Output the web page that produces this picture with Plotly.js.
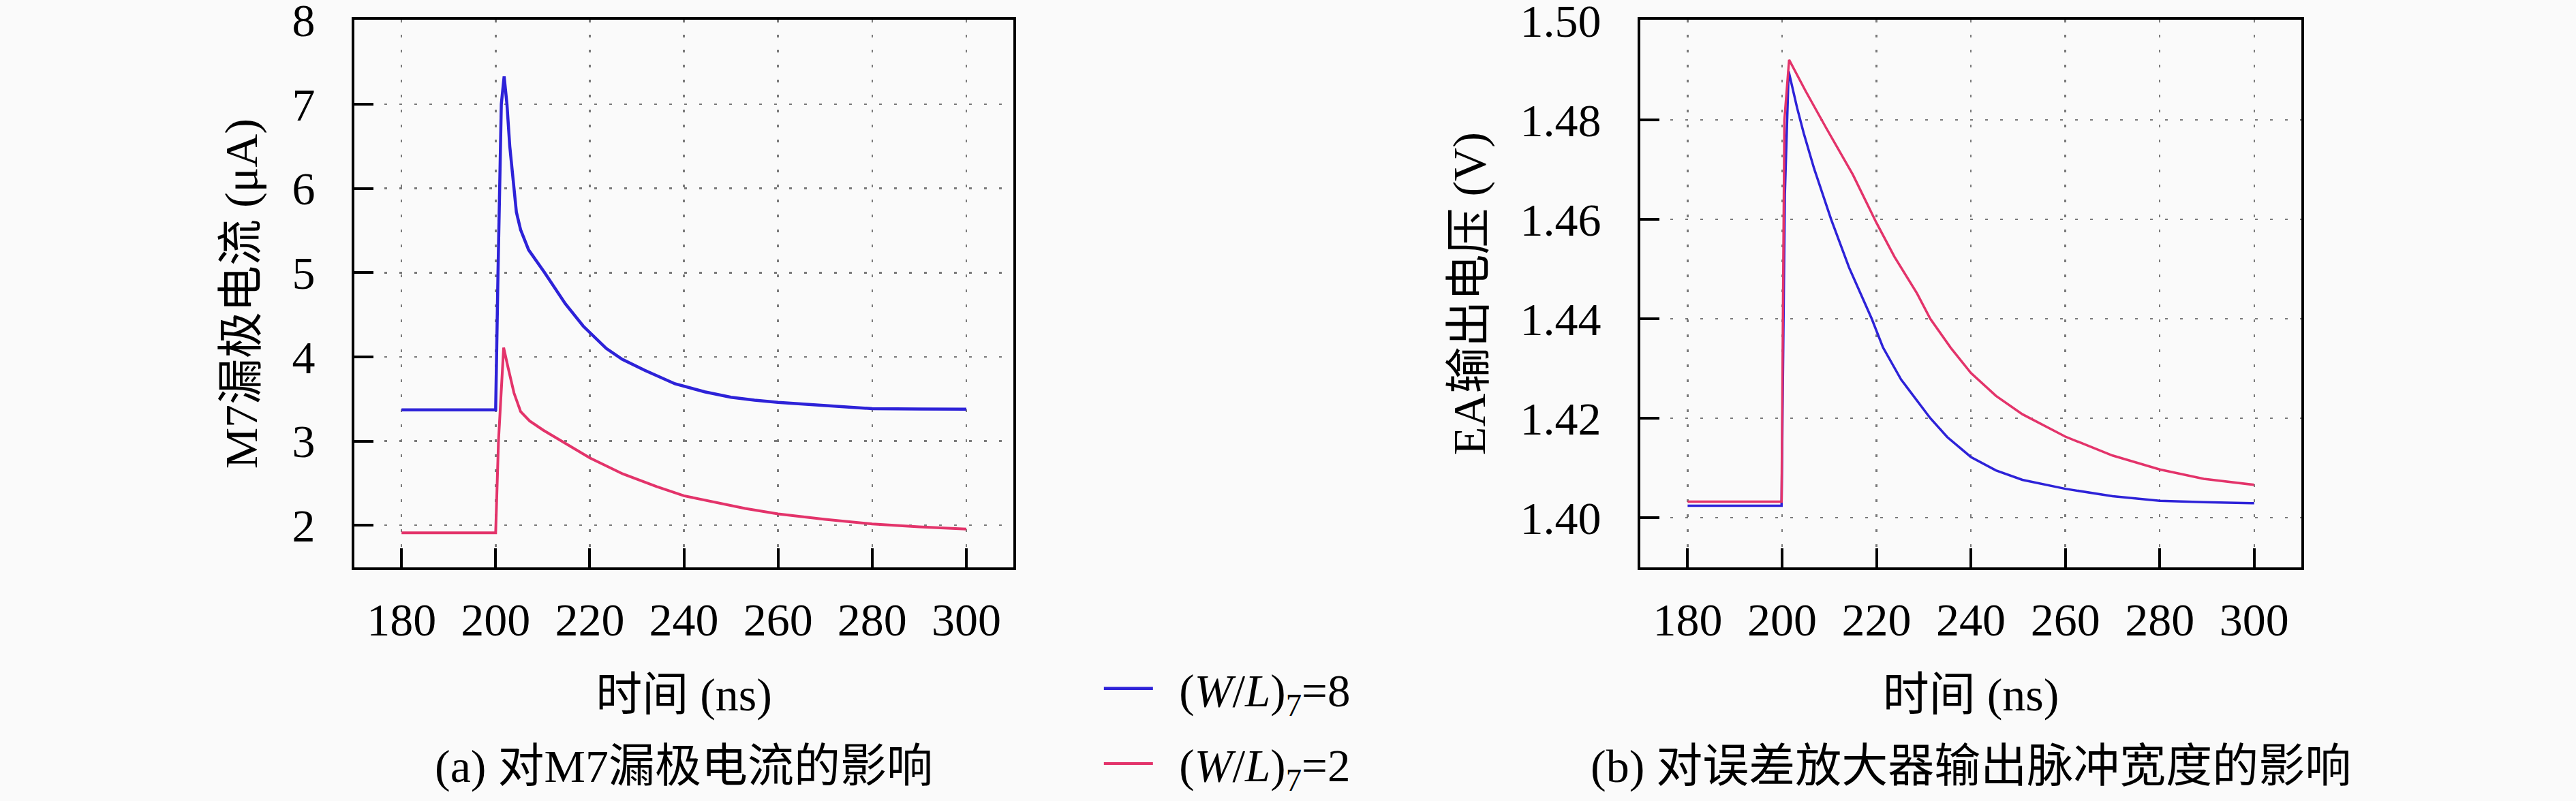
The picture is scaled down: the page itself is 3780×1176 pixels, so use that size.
<!DOCTYPE html>
<html>
<head>
<meta charset="utf-8">
<script src="https://cdn.plot.ly/plotly-3.0.1.min.js"></script>
<style>
  html, body { margin: 0; padding: 0; background: #fafafa; }
  #chart { width: 3780px; height: 1176px; }
</style>
</head>
<body>
<div id="chart"></div>
<script>
// (a) M7 drain current, uA
const tA8 = [180, 200.0, 200.5, 200.9, 201.2, 201.8, 202.4, 203.0, 203.8, 204.4, 205.3, 207.0, 210.4, 214.8, 218.6, 223.5, 226.9, 231.7, 238.1, 244.4, 250, 255, 260, 265, 270, 275, 280, 290, 300];
const iA8 = [3.37, 3.37, 5.0, 6.0, 7.0, 7.33, 7.0, 6.5, 6.0, 5.72, 5.51, 5.27, 5.0, 4.63, 4.365, 4.10, 3.97, 3.84, 3.68, 3.585, 3.52, 3.485, 3.46, 3.44, 3.42, 3.40, 3.385, 3.38, 3.378];
const tA2 = [180, 200.0, 200.6, 201.7, 202.65, 203.9, 205.3, 207.2, 210.1, 214.0, 220, 227, 234.2, 240, 247, 253, 260, 265, 270, 280, 290, 300];
const iA2 = [1.91, 1.91, 3.0, 4.11, 3.87, 3.57, 3.35, 3.24, 3.13, 3.0, 2.80, 2.61, 2.46, 2.35, 2.27, 2.20, 2.135, 2.10, 2.07, 2.015, 1.98, 1.955];

// (b) EA output voltage, V
const tB8 = [180, 199.9, 200.6, 201.4, 203.2, 204.6, 206.8, 210.4, 214.2, 219, 221.4, 225.2, 231.4, 235, 240, 245.3, 250.9, 260, 270, 280, 289.3, 300];
const vB8 = [1.4024, 1.4024, 1.465, 1.4898, 1.4824, 1.4773, 1.4702, 1.46, 1.4503, 1.44, 1.4342, 1.4278, 1.42, 1.4162, 1.4122, 1.4095, 1.4076, 1.4058, 1.4043, 1.4034, 1.4031, 1.4029];
const tB2 = [180, 199.9, 200.5, 201.5, 205, 209.4, 215, 220, 223.8, 228.6, 231.4, 235.7, 240, 245.3, 250.9, 260, 270, 280, 289.3, 300];
const vB2 = [1.4032, 1.4032, 1.48, 1.4921, 1.4858, 1.4783, 1.469, 1.4593, 1.4525, 1.4451, 1.44, 1.4342, 1.4291, 1.4245, 1.4208, 1.4163, 1.4125, 1.4097, 1.4078, 1.4066];

const names = ['\u00a0\u00a0(<i>W</i>/<i>L</i>)<sub>7</sub>=8', '\u00a0\u00a0(<i>W</i>/<i>L</i>)<sub>7</sub>=2'];
const xTicks = [180, 200, 220, 240, 260, 280, 300];

const blue = '#2d22d8';
const red = '#e3336a';
const serif = 'Liberation Serif, Noto Sans CJK SC, serif';

const data = [
  {x: tA8, y: iA8, name: names[0], legendgroup: 'g8', mode: 'lines',
   line: {color: blue, width: 4.5}, xaxis: 'x', yaxis: 'y'},
  {x: tA2, y: iA2, name: names[1], legendgroup: 'g2', mode: 'lines',
   line: {color: red, width: 4}, xaxis: 'x', yaxis: 'y'},
  {x: tB8, y: vB8, name: names[0], legendgroup: 'g8', showlegend: false, mode: 'lines',
   line: {color: blue, width: 3.5}, xaxis: 'x2', yaxis: 'y2'},
  {x: tB2, y: vB2, name: names[1], legendgroup: 'g2', showlegend: false, mode: 'lines',
   line: {color: red, width: 3.5}, xaxis: 'x2', yaxis: 'y2'}
];

// shared axis look
function axisStyle(extra) {
  return Object.assign({
    showline: true, mirror: true, linecolor: '#000', linewidth: 4,
    ticks: 'inside', ticklen: 28, tickwidth: 4, tickcolor: '#000',
    showgrid: true, gridcolor: '#7a7a7a', gridwidth: 2.5, griddash: '4px,18px',
    zeroline: false, ticklabeloverflow: 'allow',
    tickfont: {family: serif, size: 68, color: '#000'}
  }, extra);
}

const titleFont = {family: serif, size: 68, color: '#000'};

const layout = {
  width: 3780, height: 1176,
  margin: {l: 0, r: 0, t: 0, b: 0},
  paper_bgcolor: '#fafafa', plot_bgcolor: '#fafafa',
  font: {family: serif, color: '#000'},
  xaxis: axisStyle({domain: [0.1376, 0.3934], range: [170, 310], tickvals: xTicks,
    ticklabelstandoff: 14, anchor: 'y',
    title: {text: '时间 (ns)', font: titleFont, standoff: 50}}),
  yaxis: axisStyle({domain: [0.2917, 0.975], range: [1.5, 8.0001], dtick: 1,
    ticklabelstandoff: 40, anchor: 'x',
    title: {text: 'M7漏极电流 (μA)', font: titleFont, standoff: 30}}),
  xaxis2: axisStyle({domain: [0.6368, 0.8934], range: [170, 310], tickvals: xTicks,
    ticklabelstandoff: 14, anchor: 'y2',
    title: {text: '时间 (ns)', font: titleFont, standoff: 50}}),
  yaxis2: axisStyle({domain: [0.2917, 0.975], range: [1.39, 1.5001], dtick: 0.02,
    tickformat: '.2f', ticklabelstandoff: 40, anchor: 'x2',
    title: {text: 'EA输出电压 (V)', font: titleFont, standoff: 30}}),
  legend: {x: 0.4272, y: 0.183, xanchor: 'left', yanchor: 'top',
    bgcolor: 'rgba(0,0,0,0)', itemwidth: 72, tracegroupgap: 20,
    font: {family: serif, size: 67, color: '#000'}},
  annotations: [
    {text: '(a) 对M7漏极电流的影响', xref: 'paper', yref: 'paper', x: 0.2655, y: 0.0434,
     xanchor: 'center', yanchor: 'middle', showarrow: false, font: titleFont},
    {text: '(b) 对误差放大器输出脉冲宽度的影响', xref: 'paper', yref: 'paper', x: 0.7651, y: 0.0434,
     xanchor: 'center', yanchor: 'middle', showarrow: false, font: titleFont}
  ]
};

Plotly.newPlot('chart', data, layout, {staticPlot: true});
</script>
</body>
</html>
